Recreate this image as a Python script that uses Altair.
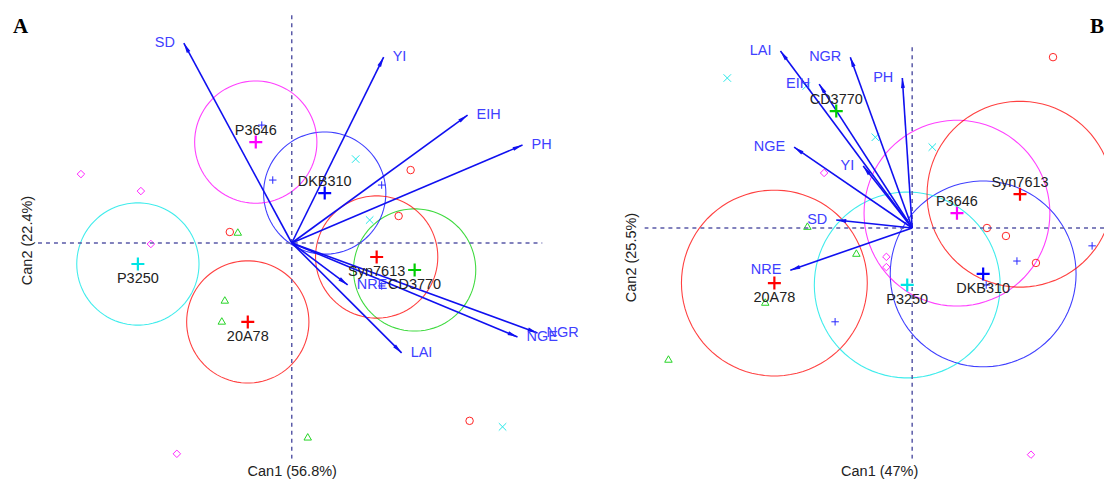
import altair as alt
import numpy as np
import pandas as pd

# ---------------- data ----------------
groups = ["20A78", "CD3770", "DKB310", "P3250", "P3646", "Syn7613"]
variables = ["SD", "YI", "EIH", "PH", "NGR", "NGE", "LAI", "NRE"]
circle_radius = 2.4477  # 95% radius in canonical units

# Panel A
A_var_can1 = [-4.32, 3.68, 7.04, 9.24, 9.84, 9.04, 4.40, 2.24]
A_var_can2 = [8.00, 7.44, 5.12, 3.92, -3.60, -3.76, -4.40, -1.68]
A_mean_can1 = [-1.76, 4.92, 1.32, -6.16, -1.44, 3.40]
A_mean_can2 = [-3.16, -1.08, 2.00, -0.84, 4.04, -0.56]
A_circle_groups = ["20A78", "CD3770", "DKB310", "P3250", "P3646", "Syn7613"]
A_obs_group = ["20A78"] * 4 + ["CD3770"] * 4 + ["DKB310"] * 4 + ["P3250"] * 3 + ["P3646"] * 4
A_obs_can1 = [4.76, 4.28, -2.48, 7.12, -2.16, -2.68, -2.80, 0.64,
              -0.76, 3.60, -1.20, 3.60, 2.56, 3.12, 8.44, -8.44, -6.04, -5.64, -4.60]
A_obs_can2 = [2.92, 1.08, 0.44, -7.12, 0.44, -2.28, -3.12, -7.76,
              2.52, 2.32, 4.72, -1.72, 3.36, 0.92, -7.36, 2.76, 2.08, -0.04, -8.44]
A_xdomain = [-10.16, 10.04]
A_ydomain = [-8.64, 9.40]
A_vline = [-8.64, 9.20]

# Panel B
B_var_can1 = [-2.00, -1.29, -2.45, -0.26, -1.63, -3.11, -3.47, -3.21]
B_var_can2 = [0.21, 1.63, 3.79, 3.95, 4.50, 2.13, 4.66, -1.11]
B_mean_can1 = [-3.63, -2.00, 1.87, -0.13, 1.18, 2.84]
B_mean_can2 = [-1.45, 3.08, -1.21, -1.50, 0.39, 0.89]
B_circle_groups = ["20A78", "DKB310", "P3250", "P3646", "Syn7613"]
B_obs_group = ["20A78"] * 4 + ["CD3770"] * 4 + ["DKB310"] * 4 + ["P3250"] * 4 + ["P3646"] * 4
B_obs_can1 = [3.71, 1.97, 2.47, 3.26, -2.76, -1.47, -3.87, -6.42,
              4.74, 2.76, -2.03, 1.95, -4.87, -0.97, 0.53, -2.79, -2.32, -0.68, -0.68, 3.13]
B_obs_can2 = [4.50, 0.00, -0.21, -0.92, 0.05, -0.66, -1.95, -3.45,
              -0.47, -0.87, -2.47, -1.50, 3.95, 2.39, 2.13, 3.74, 1.45, -0.76, -1.03, -5.97]
B_xdomain = [-7.053, 5.053]
B_ydomain = [-6.079, 5.789]
B_vline = [-6.079, 4.82]

# ---------------- styles ----------------
SANS = "Liberation Sans"
SERIF = "Liberation Serif"
FS = 14.5
group_colors = ["#ff0000", "#00cd00", "#0000ff", "#00e5e5", "#ff00ff", "#ff0000"]
PLUS = "M-1,0L1,0M0,-1L0,1"
XMARK = "M-1,-1L1,1M-1,1L1,-1"
ARROW = "M0,0L0.5,2.5L-0.5,2.5Z"
obs_shapes = ["circle", "triangle-up", PLUS, XMARK, "diamond", "triangle-down"]
color_scale = alt.Scale(domain=groups, range=group_colors)
shape_scale = alt.Scale(domain=groups, range=obs_shapes)


def panel(var_c1, var_c2, mean_c1, mean_c2, circle_groups, obs_g, obs_c1, obs_c2,
          xdom, ydom, vline, width, height, xtitle, ytitle, ytitle_pad, letter, letter_x,
          clip, ytitle_y, xtitle_x):
    xs = alt.Scale(domain=xdom, nice=False, zero=False)
    ys = alt.Scale(domain=ydom, nice=False, zero=False)
    xa = alt.Axis(title=xtitle, domain=False, ticks=False, labels=False, grid=False,
                  titlePadding=6, titleFont=SANS, titleFontSize=FS, titleFontWeight="normal",
                  titleColor="#222222", minExtent=0, maxExtent=0, titleX=xtitle_x)
    ya = alt.Axis(title=ytitle, domain=False, ticks=False, labels=False, grid=False,
                  titlePadding=ytitle_pad, titleFont=SANS, titleFontSize=FS,
                  titleFontWeight="normal", titleColor="#222222", minExtent=0, maxExtent=0,
                  titleY=ytitle_y)

    def X(f):
        return alt.X(f, type="quantitative", scale=xs, axis=xa)

    def Y(f):
        return alt.Y(f, type="quantitative", scale=ys, axis=ya)

    # dashed reference lines
    ref = pd.DataFrame({"x": [xdom[0], 0.0], "x2": [xdom[1], 0.0],
                        "y": [0.0, vline[0]], "y2": [0.0, vline[1]]})
    ref_layer = alt.Chart(ref).mark_rule(color="#5a5aa8", strokeWidth=1.5,
                                         strokeDash=[4, 4], clip=True).encode(
        x=X("x"), y=Y("y"), x2="x2", y2="y2")

    # circles around group means
    theta = np.linspace(0, 2 * np.pi, 91)
    rows = []
    for g in circle_groups:
        i = groups.index(g)
        for k, t in enumerate(theta):
            rows.append({"group": g, "idx": k,
                         "x": mean_c1[i] + circle_radius * np.cos(t),
                         "y": mean_c2[i] + circle_radius * np.sin(t)})
    circ = pd.DataFrame(rows)
    circ_layer = alt.Chart(circ).mark_line(strokeWidth=1.1, opacity=0.75, clip=True).encode(
        x=X("x"), y=Y("y"), detail="group:N", order="idx:Q",
        color=alt.Color("group:N", scale=color_scale, legend=None))

    # observations
    obs = pd.DataFrame({"group": obs_g, "x": obs_c1, "y": obs_c2})
    obs_layer = alt.Chart(obs).mark_point(size=56, filled=False, strokeWidth=1,
                                          opacity=0.85, clip=True).encode(
        x=X("x"), y=Y("y"),
        color=alt.Color("group:N", scale=color_scale, legend=None),
        shape=alt.Shape("group:N", scale=shape_scale, legend=None))

    # means
    means = pd.DataFrame({"group": groups, "x": mean_c1, "y": mean_c2})
    means["pos"] = np.where(means["y"] > 0, "above", "below")
    mean_layer = alt.Chart(means).mark_point(shape=PLUS, size=169, filled=False,
                                             strokeWidth=2.2, opacity=1).encode(
        x=X("x"), y=Y("y"),
        color=alt.Color("group:N", scale=color_scale, legend=None))
    lab_above = alt.Chart(means).transform_filter(alt.datum.pos == "above").mark_text(
        font=SANS, fontSize=FS, color="#222222", baseline="middle", dy=-11).encode(
        x=X("x"), y=Y("y"), text="group:N")
    lab_below = alt.Chart(means).transform_filter(alt.datum.pos == "below").mark_text(
        font=SANS, fontSize=FS, color="#222222", baseline="middle", dy=15).encode(
        x=X("x"), y=Y("y"), text="group:N")

    # variable arrows
    vec = pd.DataFrame({"var": variables, "x": var_c1, "y": var_c2})
    vec["x0"] = 0.0
    vec["y0"] = 0.0
    vec["ang"] = (np.degrees(np.arctan2(vec["x"], vec["y"])) + 360) % 360
    vec["side"] = np.where(vec["x"] >= 0, "right", "left")
    arrow_layer = alt.Chart(vec).mark_rule(color="#1010f0", strokeWidth=1.6).encode(
        x=X("x0"), y=Y("y0"), x2="x", y2="y")
    head_layer = alt.Chart(vec).mark_point(shape=ARROW, size=64, filled=True,
                                           color="#1010f0", opacity=1).encode(
        x=X("x"), y=Y("y"), angle=alt.Angle("ang:Q", scale=None))
    vlab_r = alt.Chart(vec).transform_filter(alt.datum.side == "right").mark_text(
        font=SANS, fontSize=FS, color="#4040ff", align="left", baseline="middle", dx=9).encode(
        x=X("x"), y=Y("y"), text="var:N")
    vlab_l = alt.Chart(vec).transform_filter(alt.datum.side == "left").mark_text(
        font=SANS, fontSize=FS, color="#4040ff", align="right", baseline="middle", dx=-9).encode(
        x=X("x"), y=Y("y"), text="var:N")

    letter_layer = alt.Chart(pd.DataFrame({"t": [letter]})).mark_text(
        font=SERIF, fontSize=21, fontWeight="bold", color="#000000",
        align="left", baseline="alphabetic").encode(
        x=alt.value(letter_x), y=alt.value(25), text="t:N")

    return alt.layer(circ_layer, obs_layer, ref_layer, arrow_layer, head_layer,
                     mean_layer, lab_above, lab_below, vlab_r, vlab_l,
                     letter_layer).properties(width=width, height=height)


chartA = panel(A_var_can1, A_var_can2, A_mean_can1, A_mean_can2, A_circle_groups,
               A_obs_group, A_obs_can1, A_obs_can2, A_xdomain, A_ydomain, A_vline,
               505, 451, "Can1 (56.8%)", "Can2 (22.4%)", 3, "A", -25, False,
               ytitle_y=232, xtitle_x=254)
chartB = panel(B_var_can1, B_var_can2, B_mean_can1, B_mean_can2, B_circle_groups,
               B_obs_group, B_obs_can1, B_obs_can2, B_xdomain, B_ydomain, B_vline,
               460, 451, "Can1 (47%)", "Can2 (25.5%)", 6, "B", 446, True,
               ytitle_y=249, xtitle_x=235)

chart = alt.hconcat(chartA, chartB, spacing=102, bounds="flush").properties(
    padding={"left": 5, "top": 0, "right": 0, "bottom": 0}
).configure_view(stroke=None)

chart.save("out.html", embed_options={"renderer": "svg", "actions": False})
